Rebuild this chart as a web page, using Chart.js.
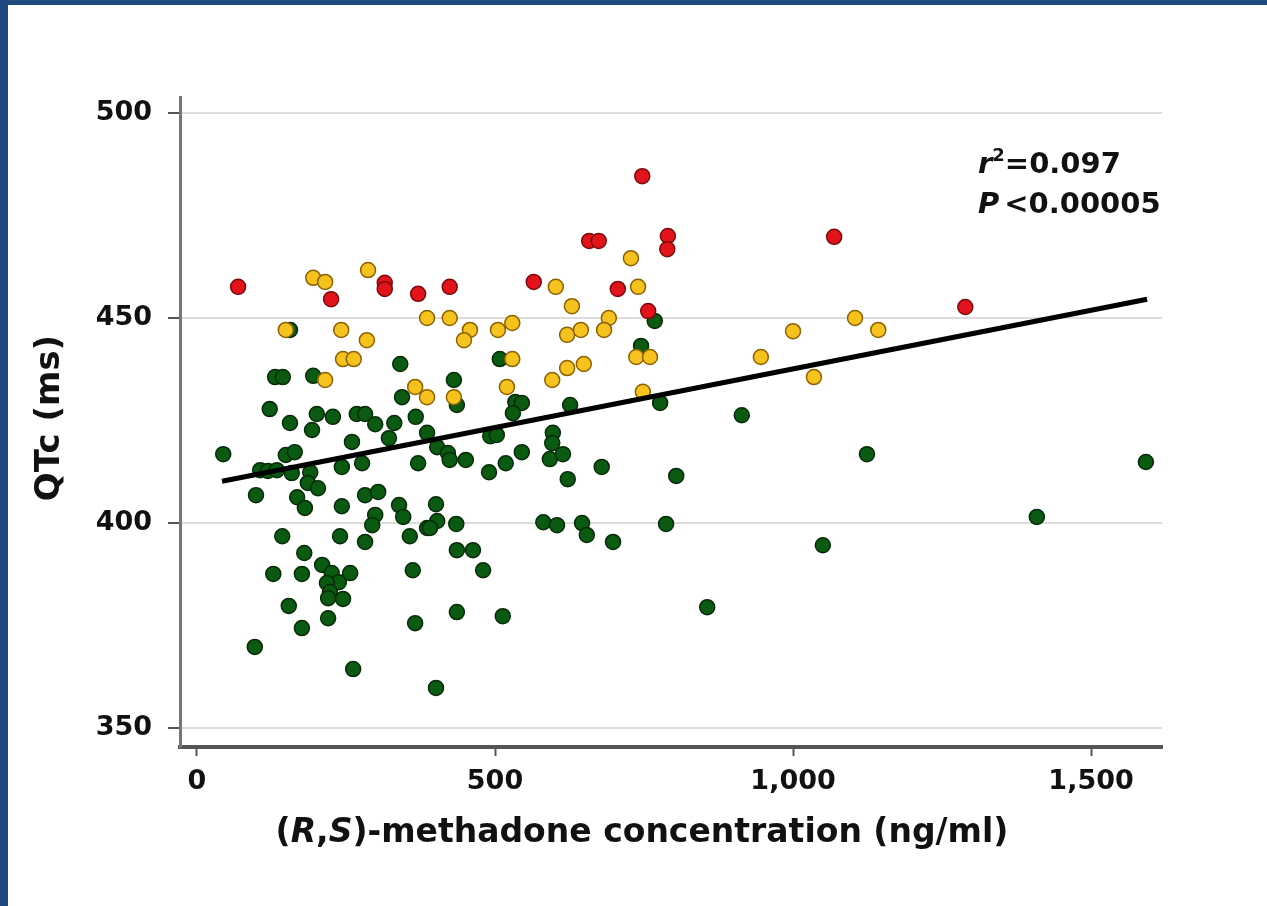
<!DOCTYPE html>
<html>
<head>
<meta charset="utf-8">
<script src="https://cdn.jsdelivr.net/npm/chart.js@4.4.1/dist/chart.umd.min.js"></script>
<style>
html, body { margin: 0; padding: 0; background: #fff; }
#wrap { position: relative; width: 1267px; height: 906px; overflow: hidden; }
#wrap canvas { position: absolute; left: 0; top: 0; }
#frame { position: absolute; left: 0; top: 0; right: 0; bottom: 0; border-top: 5px solid #1e4a80; border-left: 8px solid #1e4a80; pointer-events: none; }
</style>
</head>
<body>
<div id="wrap">
    <canvas id="qtcChart" width="1267" height="906"></canvas>
    <div id="frame"></div>
</div>
<script>
// values: methadone concentration (ng/ml) vs QTc (ms)
const greenX = [341, 131, 144, 195, 344, 122, 156, 201, 228, 193, 268, 282, 299, 331, 367, 260, 322, 386, 44, 149,
    164, 106, 119, 134, 159, 190, 243, 277, 371, 99, 168, 181, 186, 203, 243, 282, 304, 339, 346, 299,
    294, 282, 240, 143, 357, 386, 180, 128, 176, 210, 226, 238, 257, 218, 223, 220, 245, 362, 154, 220,
    176, 366, 97, 262, 403, 421, 424, 451, 492, 503, 490, 518, 545, 597, 596, 592, 614, 622, 679, 401,
    403, 391, 435, 436, 463, 480, 436, 513, 401, 581, 604, 646, 654, 698, 787, 804, 1124, 1050, 856, 626,
    777, 914, 1592, 1409, 431, 436, 508, 534, 545, 530, 745, 768, 156];
const greenY = [438.8, 435.6, 435.6, 435.9, 430.7, 427.8, 424.4, 426.6, 425.9, 422.7, 426.6, 426.6, 424.1, 424.4, 425.9, 419.8, 420.7, 422.0, 416.8, 416.6,
    417.3, 412.9, 412.7, 412.9, 412.2, 412.4, 413.7, 414.6, 414.6, 406.8, 406.3, 403.7, 409.8, 408.5, 404.1, 406.8, 407.6, 404.4, 401.5, 402.0,
    399.5, 395.4, 396.8, 396.8, 396.8, 398.8, 392.7, 387.6, 387.6, 389.8, 387.8, 385.6, 387.8, 385.4, 383.2, 381.7, 381.5, 388.5, 379.8, 376.8,
    374.4, 375.6, 369.8, 364.4, 418.5, 417.1, 415.4, 415.4, 421.2, 421.5, 412.4, 414.6, 417.3, 422.0, 419.5, 415.6, 416.8, 410.7, 413.7, 404.6,
    400.5, 398.8, 399.8, 393.4, 393.4, 388.5, 378.3, 377.3, 359.8, 400.2, 399.5, 400.0, 397.1, 395.4, 399.8, 411.5, 416.8, 394.6, 379.5, 428.8,
    429.3, 426.3, 414.9, 401.5, 434.9, 428.8, 440.0, 429.5, 429.3, 426.8, 443.2, 449.3, 447.1];

const yellowX = [195, 215, 287, 386, 424, 149, 242, 285, 245, 263, 215, 366, 386, 458, 448, 505, 529, 602, 629, 621,
    644, 691, 683, 728, 740, 529, 596, 621, 649, 431, 520, 737, 760, 748, 1000, 946, 1035, 1104, 1143];
const yellowY = [459.8, 458.8, 461.7, 450.0, 450.0, 447.1, 447.1, 444.6, 440.0, 440.0, 434.9, 433.2, 430.7, 447.1, 444.6, 447.1, 448.8, 457.6, 452.9, 445.9,
    447.1, 450.0, 447.1, 464.6, 457.6, 440.0, 434.9, 437.8, 438.8, 430.7, 433.2, 440.5, 440.5, 432.0, 446.8, 440.5, 435.6, 450.0, 447.1];

const redX = [69, 225, 315, 315, 371, 424, 565, 706, 757, 747, 658, 674, 790, 789, 1069, 1289];
const redY = [457.6, 454.6, 458.6, 457.1, 455.9, 457.6, 458.8, 457.1, 451.7, 484.6, 468.8, 468.8, 470.0, 466.8, 469.8, 452.7];

// regression line end points
const fitX = [42, 1594];
const fitY = [410.2, 454.6];

const xTicks = [0, 500, 1000, 1500];
const xTickLabels = ['0', '500', '1,000', '1,500'];
const yTicks = [350, 400, 450, 500];

const FONT = 'DejaVu Sans';

function toPoints(xs, ys) {
    return xs.map((x, i) => ({ x: x, y: ys[i] }));
}

// draw a row of text pieces with their own styles
function drawRuns(ctx, runs, x, y, align) {
    const widths = runs.map((r) => {
        ctx.font = r.font;
        return ctx.measureText(r.text).width + (r.gap || 0);
    });
    const total = widths.reduce((a, b) => a + b, 0);
    let cx = align === 'center' ? x - total / 2 : x;
    runs.forEach((r, i) => {
        ctx.font = r.font;
        ctx.fillText(r.text, cx, y + (r.dy || 0));
        cx += widths[i];
    });
}

const figureText = {
    id: 'figureText',
    afterDraw(chart) {
        const ctx = chart.ctx;
        ctx.save();
        ctx.fillStyle = '#111';
        ctx.textBaseline = 'middle';
        ctx.textAlign = 'left';

        // y axis title
        ctx.save();
        ctx.translate(50, 418);
        ctx.rotate(-Math.PI / 2);
        ctx.font = `bold 34px "${FONT}"`;
        ctx.textAlign = 'center';
        ctx.fillText('QTc (ms)', 0, 0);
        ctx.restore();

        // x axis title
        const n = `bold 33px "${FONT}"`;
        const it = `italic bold 33px "${FONT}"`;
        drawRuns(ctx, [
            { text: '(', font: n },
            { text: 'R', font: it },
            { text: ',', font: n },
            { text: 'S', font: it },
            { text: ')-methadone concentration (ng/ml)', font: n },
        ], 642, 833, 'center');

        // statistics
        const sn = `bold 29px "${FONT}"`;
        const si = `italic bold 29px "${FONT}"`;
        drawRuns(ctx, [
            { text: 'r', font: si },
            { text: '2', font: `bold 18px "${FONT}"`, dy: -9 },
            { text: '=0.097', font: sn },
        ], 978, 165, 'left');
        drawRuns(ctx, [
            { text: 'P', font: si, gap: 5 },
            { text: '<0.00005', font: sn },
        ], 978, 205, 'left');
        ctx.restore();
    },
};

const tickFont = { family: FONT, size: 27, weight: 'bold' };

const ctx = document.getElementById('qtcChart').getContext('2d');
new Chart(ctx, {
    type: 'scatter',
    data: {
        datasets: [
            {
                label: 'Linear fit',
                data: toPoints(fitX, fitY),
                showLine: true,
                borderColor: '#000',
                borderWidth: 5,
                pointRadius: 0,
                fill: false,
            },
            {
                label: 'QTc > 450',
                data: toPoints(redX, redY),
                backgroundColor: '#e3131c',
                borderColor: '#7d0b0b',
                borderWidth: 1.5,
                pointRadius: 7.5,
            },
            {
                label: 'QTc 430-450',
                data: toPoints(yellowX, yellowY),
                backgroundColor: '#f6c21e',
                borderColor: '#8c6100',
                borderWidth: 1.5,
                pointRadius: 7.5,
            },
            {
                label: 'QTc normal',
                data: toPoints(greenX, greenY),
                backgroundColor: '#0b5a12',
                borderColor: '#062b08',
                borderWidth: 1.5,
                pointRadius: 7.5,
            },
        ],
    },
    options: {
        responsive: false,
        animation: false,
        devicePixelRatio: 1,
        layout: { padding: { left: 0, top: 97, right: 105, bottom: 0 } },
        plugins: {
            legend: { display: false },
            tooltip: { enabled: false },
        },
        scales: {
            x: {
                type: 'linear',
                min: -28.5,
                max: 1619,
                afterFit: (scale) => { scale.height = 159; },
                afterBuildTicks: (scale) => { scale.ticks = xTicks.map((v) => ({ value: v })); },
                grid: { drawOnChartArea: false, drawTicks: true, tickLength: 9, tickColor: '#555', tickWidth: 2 },
                border: { display: true, color: '#555', width: 4 },
                ticks: {
                    color: '#111',
                    font: tickFont,
                    padding: 10,
                    maxRotation: 0,
                    autoSkip: false,
                    callback: (value, index) => xTickLabels[index],
                },
            },
            y: {
                type: 'linear',
                min: 345.4,
                max: 503.9,
                afterFit: (scale) => { scale.width = 180; },
                afterBuildTicks: (scale) => { scale.ticks = yTicks.map((v) => ({ value: v })); },
                grid: { color: '#dcdcdc', lineWidth: 2, tickLength: 12, tickColor: '#555', tickWidth: 2 },
                border: { display: true, color: '#777', width: 3 },
                ticks: { color: '#111', font: tickFont, padding: 16, autoSkip: false },
            },
        },
    },
    plugins: [figureText],
});
</script>
</body>
</html>
